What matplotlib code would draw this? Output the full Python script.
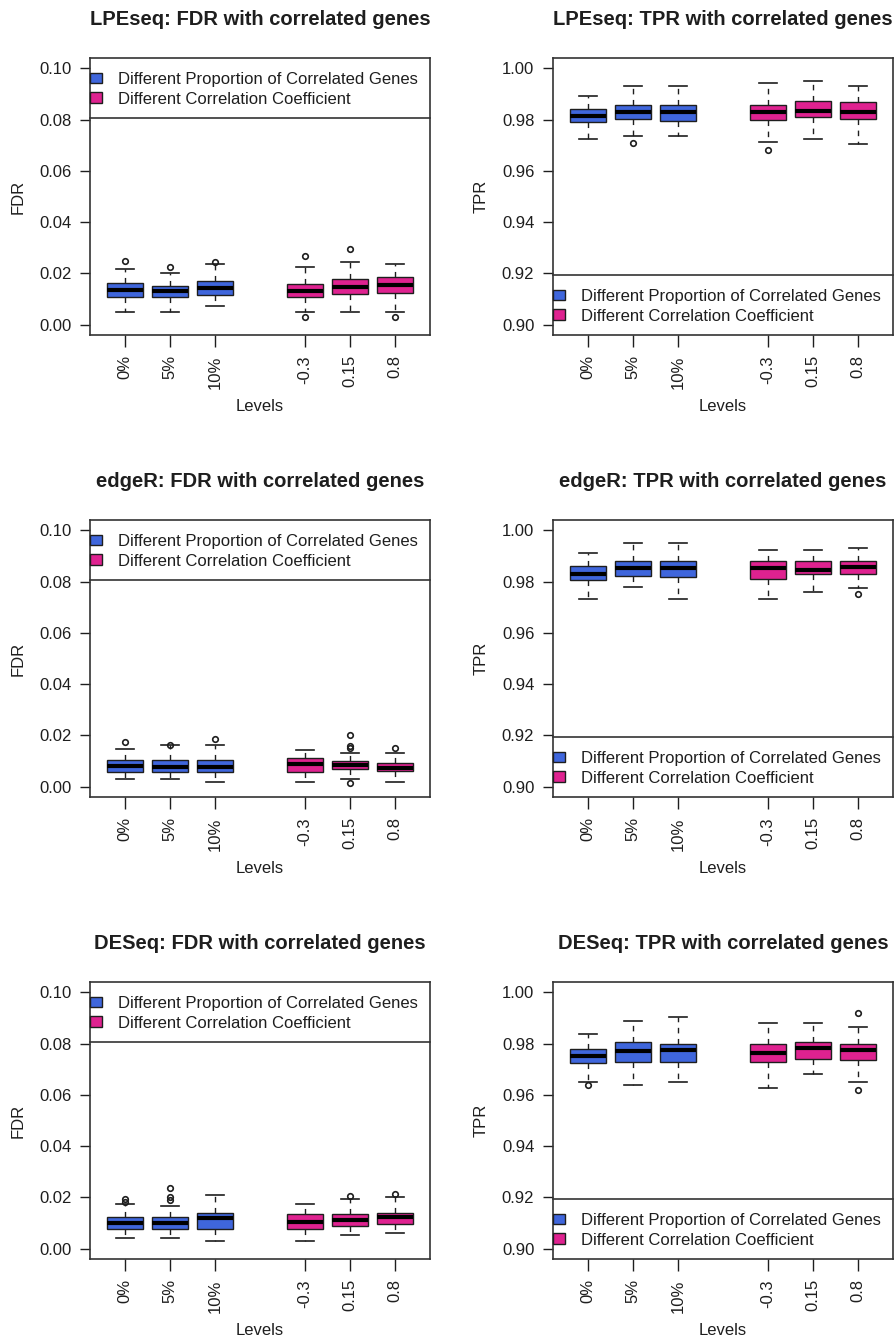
import matplotlib
matplotlib.use('Agg')
import matplotlib.pyplot as plt
from matplotlib.patches import Patch

plt.rcParams['font.family'] = ['Liberation Sans', 'DejaVu Sans']
plt.rcParams['font.size'] = 12

levels = ['0%', '5%', '10%', '-0.3', '0.15', '0.8']
positions = [1, 2, 3, 5, 6, 7]

# per level: lower whisker, Q1, median, Q3, upper whisker
lpeseq_fdr = [
    [0.0049, 0.0110, 0.0135, 0.0161, 0.0219],
    [0.0049, 0.0110, 0.0133, 0.0152, 0.0200],
    [0.0074, 0.0116, 0.0142, 0.0170, 0.0236],
    [0.0049, 0.0110, 0.0133, 0.0157, 0.0226],
    [0.0049, 0.0120, 0.0148, 0.0179, 0.0243],
    [0.0049, 0.0123, 0.0155, 0.0185, 0.0236],
]
lpeseq_fdr_out = [[0.0249], [0.0226], [0.0245], [0.0267, 0.0030], [0.0295], [0.0030]]

lpeseq_tpr = [
    [0.9723, 0.9790, 0.9813, 0.9841, 0.9890],
    [0.9735, 0.9804, 0.9828, 0.9858, 0.9929],
    [0.9735, 0.9796, 0.9831, 0.9858, 0.9929],
    [0.9712, 0.9800, 0.9828, 0.9858, 0.9942],
    [0.9723, 0.9810, 0.9832, 0.9871, 0.9951],
    [0.9703, 0.9803, 0.9828, 0.9868, 0.9929],
]
lpeseq_tpr_out = [[], [0.9710], [], [0.9681], [], []]

edger_fdr = [
    [0.0029, 0.0058, 0.0081, 0.0103, 0.0149],
    [0.0029, 0.0058, 0.0078, 0.0103, 0.0161],
    [0.0020, 0.0058, 0.0077, 0.0103, 0.0161],
    [0.0020, 0.0058, 0.0087, 0.0113, 0.0142],
    [0.0031, 0.0070, 0.0083, 0.0100, 0.0133],
    [0.0020, 0.0061, 0.0074, 0.0094, 0.0133],
]
edger_fdr_out = [[0.0174], [0.0164], [0.0185], [], [0.0200, 0.0159, 0.0150, 0.0016], [0.0152]]

edger_tpr = [
    [0.9731, 0.9805, 0.9831, 0.9861, 0.9910],
    [0.9780, 0.9822, 0.9852, 0.9880, 0.9949],
    [0.9731, 0.9819, 0.9852, 0.9880, 0.9949],
    [0.9731, 0.9809, 0.9852, 0.9880, 0.9922],
    [0.9761, 0.9831, 0.9845, 0.9880, 0.9922],
    [0.9773, 0.9831, 0.9858, 0.9880, 0.9930],
]
edger_tpr_out = [[], [], [], [], [], [0.9750]]

deseq_fdr = [
    [0.0043, 0.0078, 0.0102, 0.0122, 0.0174],
    [0.0043, 0.0078, 0.0102, 0.0122, 0.0165],
    [0.0030, 0.0078, 0.0118, 0.0141, 0.0209],
    [0.0030, 0.0078, 0.0105, 0.0135, 0.0174],
    [0.0052, 0.0089, 0.0111, 0.0135, 0.0193],
    [0.0063, 0.0095, 0.0122, 0.0141, 0.0200],
]
deseq_fdr_out = [[0.0193, 0.0183], [0.0235, 0.0203, 0.0191], [], [], [0.0207], [0.0213]]

deseq_tpr = [
    [0.9650, 0.9723, 0.9752, 0.9778, 0.9839],
    [0.9637, 0.9728, 0.9771, 0.9808, 0.9889],
    [0.9650, 0.9728, 0.9775, 0.9800, 0.9902],
    [0.9627, 0.9728, 0.9765, 0.9800, 0.9880],
    [0.9680, 0.9739, 0.9782, 0.9808, 0.9880],
    [0.9650, 0.9735, 0.9775, 0.9800, 0.9863],
]
deseq_tpr_out = [[0.9637], [], [], [], [], [0.9919, 0.9618]]

blue = '#3F66DC'
pink = '#DF2290'
ink = '#1e1e1e'
box_colors = [blue] * 3 + [pink] * 3

panels = [
    ('LPEseq: FDR with correlated genes', 'FDR', lpeseq_fdr, lpeseq_fdr_out),
    ('LPEseq: TPR with correlated genes', 'TPR', lpeseq_tpr, lpeseq_tpr_out),
    ('edgeR: FDR with correlated genes', 'FDR', edger_fdr, edger_fdr_out),
    ('edgeR: TPR with correlated genes', 'TPR', edger_tpr, edger_tpr_out),
    ('DESeq: FDR with correlated genes', 'FDR', deseq_fdr, deseq_fdr_out),
    ('DESeq: TPR with correlated genes', 'TPR', deseq_tpr, deseq_tpr_out),
]

W, H = 896, 1341
fig = plt.figure(figsize=(W / 100, H / 100), dpi=100)

col_left = [90, 553]
row_top = [58, 520, 982]
ax_w, ax_h = 340, 277

for i, (title, ylab, summ, outs) in enumerate(panels):
    r, c = divmod(i, 2)
    x0 = col_left[c]
    y0 = row_top[r]
    ax = fig.add_axes([x0 / W, 1 - (y0 + ax_h) / H, ax_w / W, ax_h / H])

    stats = []
    for s, o in zip(summ, outs):
        stats.append(dict(whislo=s[0], q1=s[1], med=s[2], q3=s[3], whishi=s[4], fliers=o))

    bp = ax.bxp(stats, positions=positions, widths=0.8, patch_artist=True,
                boxprops=dict(edgecolor=ink, linewidth=1.0),
                medianprops=dict(color='black', linewidth=3, solid_capstyle='butt'),
                whiskerprops=dict(color=ink, linewidth=1.0, linestyle=(0, (4, 4))),
                capprops=dict(color=ink, linewidth=1.2),
                flierprops=dict(marker='o', markerfacecolor='none', markeredgecolor=ink,
                                markersize=4, markeredgewidth=1.2))
    for patch, col in zip(bp['boxes'], box_colors):
        patch.set_facecolor(col)

    if ylab == 'FDR':
        ax.set_ylim(-0.004, 0.104)
        ticks = [0.00, 0.02, 0.04, 0.06, 0.08, 0.10]
        line_y = 0.783
        leg_y = 0.950
    else:
        ax.set_ylim(0.896, 1.004)
        ticks = [0.90, 0.92, 0.94, 0.96, 0.98, 1.00]
        line_y = 0.2166
        leg_y = 0.2166 - 0.050
    ax.set_yticks(ticks)
    ax.set_yticklabels(['%.2f' % t for t in ticks])
    ax.set_xlim(0.22, 7.78)
    ax.set_xticks(positions)
    ax.set_xticklabels(levels, rotation=90)

    ax.tick_params(axis='y', direction='out', length=7, width=1.0, pad=6.5,
                   colors=ink, labelsize=12)
    ax.tick_params(axis='x', direction='out', length=8.5, width=1.0, pad=6,
                   colors=ink, labelsize=12)
    for sp in ax.spines.values():
        sp.set_color('#333333')
        sp.set_linewidth(1.2)

    # legend box: its top/bottom edge coincides with the axes frame
    ax.plot([0, 1], [line_y, line_y], transform=ax.transAxes, color='#333333', lw=1.2,
            clip_on=False)
    handles = [Patch(facecolor=blue, edgecolor=ink, lw=1.0),
               Patch(facecolor=pink, edgecolor=ink, lw=1.0)]
    ax.legend(handles, ['Different Proportion of Correlated Genes',
                        'Different Correlation Coefficient'],
              loc='upper left', bbox_to_anchor=(0.0, leg_y), frameon=False,
              borderpad=0, borderaxespad=0, handlelength=0.7, handleheight=0.6,
              handletextpad=1.0, labelspacing=0.28, fontsize=12, labelcolor=ink)

    ax.set_title(title, fontsize=14.5, fontweight='bold', color=ink, pad=24)
    ax.set_ylabel(ylab, color=ink, fontsize=12)
    ax.yaxis.set_label_coords(-0.188, 0.5)
    ax.set_xlabel('Levels', color=ink, fontsize=12)
    ax.xaxis.set_label_coords(0.5, -0.231)

fig.savefig('out.png', dpi=100)
